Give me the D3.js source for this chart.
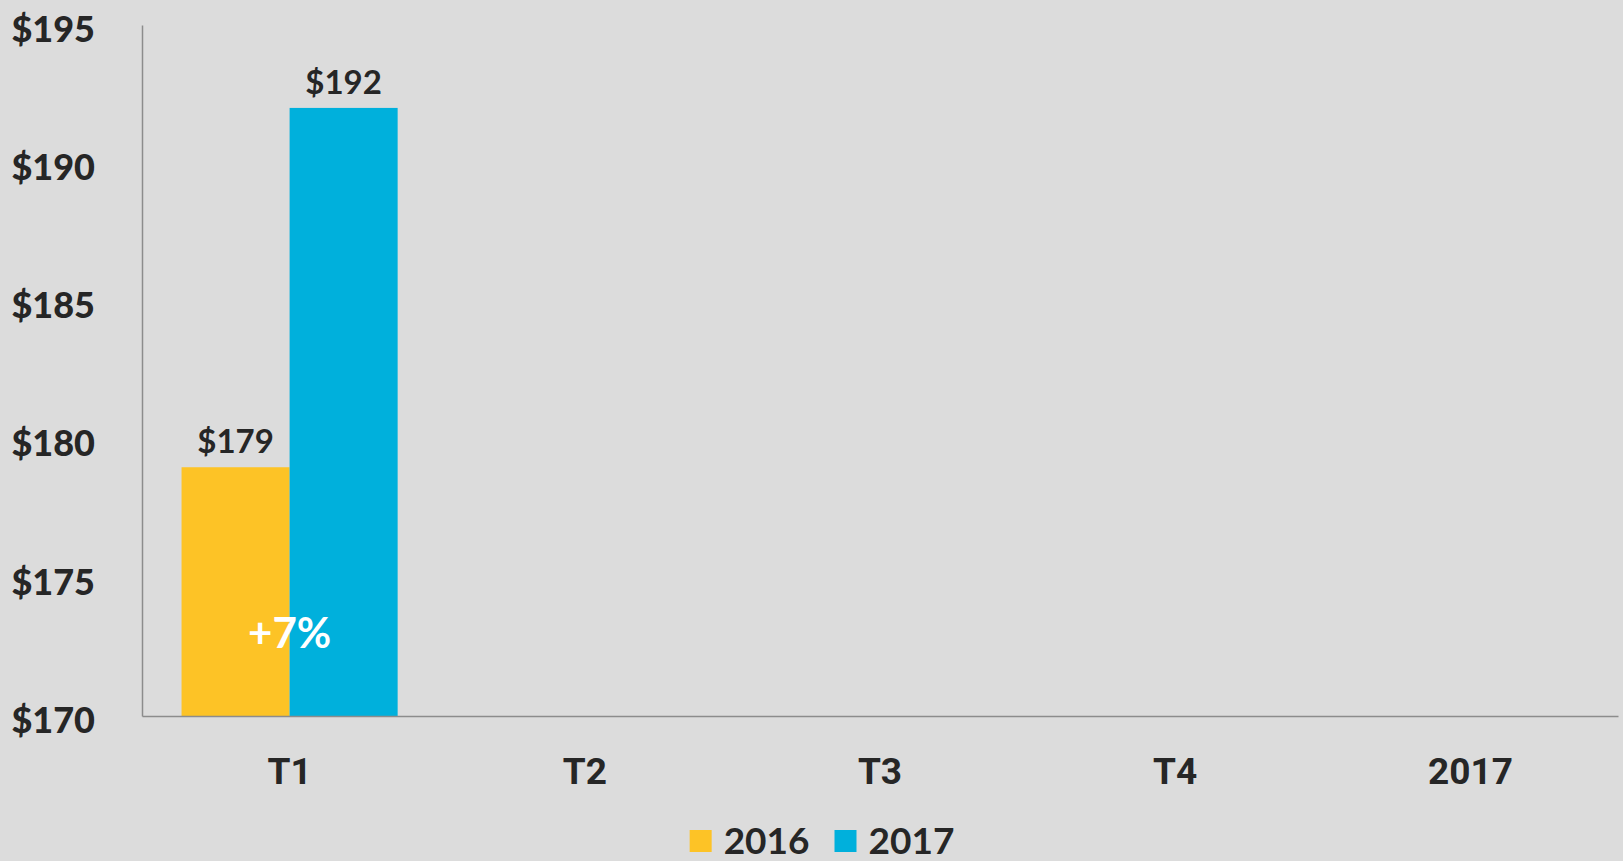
<!DOCTYPE html>
<html>
<head>
<meta charset="utf-8">
<script src="https://cdn.jsdelivr.net/npm/d3@7"></script>
<style>
  html, body { margin: 0; padding: 0; background: #dcdcdc; }
  svg { display: block; }
</style>
</head>
<body>
<svg id="chart"></svg>
<script>
// data
var categories = ['T1', 'T2', 'T3', 'T4', '2017'];
var seriesNames = ['2016', '2017'];
var values2016 = [179, null, null, null, null];
var values2017 = [192, null, null, null, null];
var yTicks = [170, 175, 180, 185, 190, 195];
var changeLabels = ['+7%', null, null, null, null];
var colors = ['#fdc326', '#00b0dc'];

var W = 1623, H = 861;
var margin = {top: 25, right: 5, bottom: 145, left: 142},
    width = W - margin.left - margin.right,
    height = H - margin.top - margin.bottom;

var svg = d3.select('#chart').attr('width', W).attr('height', H);
svg.append('rect').attr('width', W).attr('height', H).attr('fill', '#dcdcdc');

var g = svg.append('g').attr('transform', 'translate(' + margin.left + ',' + margin.top + ')');

var x = d3.scaleBand()
    .domain(categories)
    .range([0, width])
    .paddingInner(0.268)
    .paddingOuter(0.134);
var x1 = d3.scaleBand()
    .domain(seriesNames)
    .range([0, x.bandwidth()]);
var y = d3.scaleLinear()
    .domain([170, 195])
    .range([height, 0]);

var rows = categories.map(function(c, i) {
  return {cat: c, vals: [values2016[i], values2017[i]], change: changeLabels[i]};
});

// bars
var groups = g.selectAll('.grp').data(rows).enter().append('g')
    .attr('class', 'grp')
    .attr('transform', function(d) { return 'translate(' + x(d.cat) + ',0)'; });

groups.selectAll('rect')
  .data(function(d) { return d.vals.map(function(v, i) { return {key: seriesNames[i], v: v, i: i}; }).filter(function(e) { return e.v != null; }); })
  .enter().append('rect')
  .attr('x', function(d) { return x1(d.key); })
  .attr('width', x1.bandwidth())
  .attr('y', function(d) { return y(d.v); })
  .attr('height', function(d) { return height - y(d.v); })
  .attr('fill', function(d) { return colors[d.i]; });

groups.selectAll('.val')
  .data(function(d) { return d.vals.map(function(v, i) { return {key: seriesNames[i], v: v}; }).filter(function(e) { return e.v != null; }); })
  .enter().append('text')
  .attr('class', 'val')
  .attr('x', function(d) { return x1(d.key) + x1.bandwidth() / 2; })
  .attr('y', function(d) { return y(d.v) - 14; })
  .attr('text-anchor', 'middle')
  .style('font-family', 'Lato, sans-serif')
  .style('font-weight', 'bold')
  .style('font-size', '33px')
  .attr('fill', '#262626')
  .text(function(d) { return '$' + d.v; });

// change label sits low across the pair of bars
groups.filter(function(d) { return d.change; }).append('text')
  .attr('x', x.bandwidth() / 2)
  .attr('y', y(172.45))
  .attr('text-anchor', 'middle')
  .style('font-family', 'Lato, sans-serif')
  .style('font-weight', 'bold')
  .style('font-size', '42px')
  .attr('fill', '#ffffff')
  .text(function(d) { return d.change; });

// y axis
var yAxis = g.append('g')
  .call(d3.axisLeft(y).tickValues(yTicks).tickSize(0).tickPadding(47).tickFormat(function(d) { return '$' + d; }));
yAxis.select('.domain').attr('stroke', '#8c8c8c').attr('stroke-width', 1.5);
yAxis.selectAll('text')
  .attr('dy', '0.45em')
  .style('font-family', 'Lato, sans-serif')
  .style('font-weight', '900')
  .style('font-size', '36px')
  .attr('fill', '#262626');

// x axis
var xAxis = g.append('g')
  .attr('transform', 'translate(0,' + height + ')')
  .call(d3.axisBottom(x).tickSize(0).tickPadding(42));
xAxis.select('.domain').attr('stroke', '#8c8c8c').attr('stroke-width', 1.5);
xAxis.selectAll('text')
  .style('font-family', 'Roboto, sans-serif')
  .style('font-weight', 'bold')
  .style('font-size', '37px')
  .attr('fill', '#262626');

// legend
var legend = svg.append('g');
var items = legend.selectAll('g').data(seriesNames).enter().append('g');
items.append('rect').attr('width', 22).attr('height', 22).attr('y', -22)
  .attr('fill', function(d, i) { return colors[i]; });
items.append('text').attr('x', 34).attr('y', 2)
  .style('font-family', 'Lato, sans-serif')
  .style('font-weight', 'bold')
  .style('font-size', '37px')
  .attr('fill', '#262626')
  .text(function(d) { return d; });
var lx = 0;
items.each(function() {
  var w = this.getBBox().width;
  d3.select(this).attr('transform', 'translate(' + lx + ',0)');
  lx += w + 25;
});
lx -= 25;
legend.attr('transform', 'translate(' + (822 - lx / 2) + ',852)');
</script>
</body>
</html>
